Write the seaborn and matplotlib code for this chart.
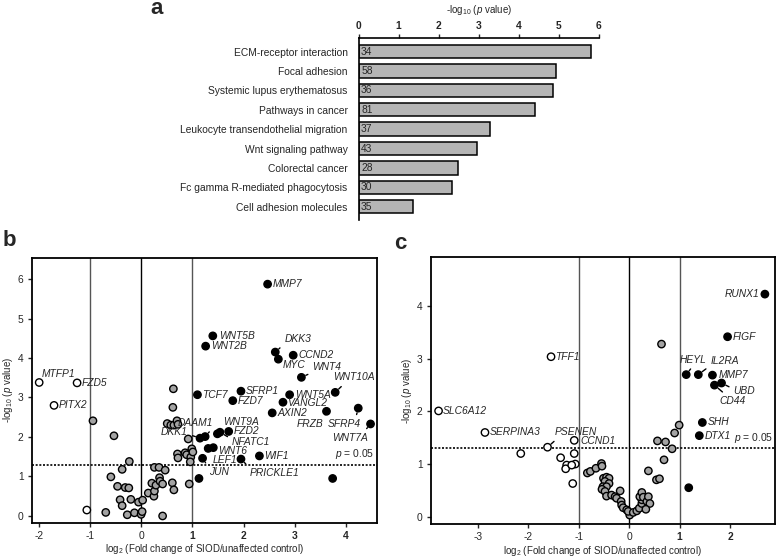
import numpy as np
import pandas as pd
import matplotlib
matplotlib.use("Agg")
import matplotlib.pyplot as plt
import seaborn as sns

# ---------------- data ----------------
pathways = ["ECM-receptor interaction", "Focal adhesion", "Systemic lupus erythematosus",
            "Pathways in cancer", "Leukocyte transendothelial migration", "Wnt signaling pathway",
            "Colorectal cancer", "Fc gamma R-mediated phagocytosis", "Cell adhesion molecules"]
pathway_logp = [5.81, 4.94, 4.86, 4.42, 3.29, 2.95, 2.49, 2.33, 1.35]
pathway_counts = [34, 58, 36, 81, 37, 43, 28, 30, 35]

# panel b (Wnt pathway genes)
b_up_genes = ["MMP7", "WNT5B", "WNT2B", "DKK3", "CCND2", "MYC", "WNT4", "WNT10A", "TCF7", "SFRP1",
              "FZD7", "WNT5A", "VANGL2", "AXIN2", "FRZB", "SFRP4", "WNT7A", "DKK1", "DAAM1", "WNT9A",
              "NFATC1", "FZD2", "LEF1", "WNT6", "JUN", "WIF1", "PRICKLE1", "", ""]
b_up_x = [2.47, 1.40, 1.26, 2.62, 2.97, 2.68, 3.13, 3.79, 1.10, 1.95,
          1.79, 2.90, 2.77, 2.56, 3.62, 4.24, 4.48, 1.15, 1.25, 1.49,
          1.54, 1.71, 1.31, 1.41, 1.20, 2.31, 1.95, 1.13, 3.74]
b_up_y = [5.87, 4.56, 4.30, 4.15, 4.07, 3.97, 3.51, 3.13, 3.07, 3.16,
          2.92, 3.07, 2.88, 2.61, 2.65, 2.73, 2.33, 1.97, 2.01, 2.08,
          2.12, 2.14, 1.71, 1.73, 1.46, 1.52, 1.44, 0.95, 0.95]
b_down_genes = ["MTFP1", "FZD5", "PITX2", ""]
b_down_x = [-1.99, -1.25, -1.70, -1.06]
b_down_y = [3.38, 3.37, 2.80, 0.15]
b_ns_x = [-0.94, -0.53, -0.23, -0.37, -0.59, -0.46, -0.31, -0.24, -0.41, -0.37, -0.20, -0.05, 0.03,
          -0.69, -0.27, -0.13, 0.00, 0.02, 0.42, 0.14, 0.25, 0.26, 0.21, 0.29, 0.36, 0.37, 0.42,
          0.26, 0.35, 0.47, 0.61, 0.64, 0.94, 0.63, 0.62, 0.51, 0.58, 0.64, 0.70, 0.72, 0.92,
          0.71, 0.72, 0.86, 0.89, 0.97, 0.99, 1.01, 0.96]
b_ns_y = [2.41, 2.03, 1.38, 1.18, 0.99, 0.75, 0.72, 0.71, 0.41, 0.26, 0.42, 0.35, 0.40,
          0.09, 0.03, 0.08, 0.04, 0.11, 0.00, 0.58, 0.50, 0.63, 0.83, 0.78, 0.97, 0.88, 0.81,
          1.23, 1.23, 1.16, 0.84, 0.66, 0.81, 3.22, 2.75, 2.34, 2.30, 2.30, 2.41, 2.32, 1.95,
          1.57, 1.47, 1.60, 1.55, 1.49, 1.70, 1.62, 1.37]

# panel c (Notch / other genes)
c_up_genes = ["RUNX1", "FIGF", "HEYL", "IL2RA", "MMP7", "UBD", "CD44", "SHH", "DTX1", ""]
c_up_x = [2.69, 1.95, 1.13, 1.37, 1.65, 1.83, 1.69, 1.45, 1.39, 1.18]
c_up_y = [4.23, 3.42, 2.70, 2.70, 2.69, 2.54, 2.50, 1.79, 1.54, 0.55]
c_down_genes = ["SLC6A12", "TFF1", "SERPINA3", "PSENEN", "CCND1", "", "", "", "", "", "", "", ""]
c_down_x = [-3.78, -1.55, -2.86, -1.62, -1.09, -2.15, -1.09, -1.36, -1.24, -1.26, -1.07, -1.14, -1.12]
c_down_y = [2.01, 3.04, 1.60, 1.32, 1.45, 1.20, 1.20, 1.12, 0.98, 0.91, 1.00, 0.98, 0.63]
c_ns_x = [-0.83, -0.77, -0.66, -0.55, -0.54, -0.51, -0.45, -0.40, -0.48, -0.40, -0.52, -0.45, -0.54,
          -0.48, -0.45, -0.35, -0.28, -0.18, -0.25, -0.16, -0.15, -0.12, -0.05, 0.01, -0.02, 0.08,
          0.15, 0.20, 0.25, 0.25, 0.21, 0.25, 0.28, 0.35, 0.38, 0.41, 0.33, 0.38, 0.54, 0.60,
          0.69, 0.56, 0.72, 0.85, 0.90, 0.99, 0.64]
c_ns_y = [0.83, 0.86, 0.92, 1.01, 0.96, 0.73, 0.75, 0.73, 0.67, 0.63, 0.57, 0.57, 0.52,
          0.48, 0.39, 0.41, 0.38, 0.49, 0.35, 0.29, 0.22, 0.17, 0.13, 0.03, 0.10, 0.08,
          0.11, 0.16, 0.25, 0.32, 0.38, 0.46, 0.37, 0.29, 0.38, 0.25, 0.14, 0.87, 0.70, 0.72,
          1.08, 1.44, 1.42, 1.29, 1.59, 1.74, 3.28]

# ---------------- style ----------------
sns.set_theme(style="white")
plt.rcParams["font.family"] = ["Liberation Sans", "DejaVu Sans"]
plt.rcParams["mathtext.fontset"] = "custom"
plt.rcParams["mathtext.rm"] = "Liberation Sans"
plt.rcParams["mathtext.it"] = "Liberation Sans:italic"
plt.rcParams["mathtext.bf"] = "Liberation Sans:bold"

FS = 7.4
FS_LAB = 7.0
GREY = "#a3a3a3"
palette = {"up": "black", "ns": GREY, "down": "white"}

fig = plt.figure(figsize=(7.77, 5.58), dpi=100)

# ---------------- panel a ----------------
ax_a = fig.add_axes([0.4616, 0.6057, 0.3089, 0.3256])
df_a = pd.DataFrame({"term": pathways, "logp": pathway_logp, "n": pathway_counts})
sns.barplot(data=df_a, x="logp", y="term", orient="h", color="#b5b5b5", saturation=1,
            edgecolor="black", linewidth=1.1, width=0.69, ax=ax_a)
ax_a.set_xlim(0, 6)
ax_a.set_ylim(8.69, -0.69)
ax_a.xaxis.tick_top()
ax_a.xaxis.set_label_position("top")
ax_a.set_xticks(range(7))
ax_a.set_xticklabels([str(i) for i in range(7)], fontsize=FS, fontweight="bold")
ax_a.tick_params(axis="x", direction="out", length=3, width=1, pad=2, top=True, bottom=False)
ax_a.tick_params(axis="y", length=0, pad=8, labelsize=FS)
for s in ["right", "bottom"]:
    ax_a.spines[s].set_visible(False)
for s in ["top", "left"]:
    ax_a.spines[s].set_linewidth(1.2)
    ax_a.spines[s].set_color("black")
ax_a.set_ylabel("")
ax_a.set_xlabel(r"-log$_{10}$ ($\mathit{p}$ value)", fontsize=FS_LAB, labelpad=6)
for i, n in enumerate(df_a["n"]):
    ax_a.text(0.06, i, str(n), va="center", ha="left", fontsize=FS)


def volcano(ax, up, down, ns, xlim, ylim, xticks, yticks, bold_from):
    frames = []
    for grp, (xs, ys) in (("ns", ns), ("down", down), ("up", up)):
        frames.append(pd.DataFrame({"x": xs, "y": ys, "group": grp}))
    df = pd.concat(frames, ignore_index=True)
    for v, c in ((-1, "#555555"), (0, "black"), (1, "#555555")):
        ax.axvline(v, color=c, lw=1.0, zorder=1)
    ax.axhline(-np.log10(0.05), color="black", lw=1.2, ls=(0, (1.2, 1.0)), zorder=1)
    sns.scatterplot(data=df, x="x", y="y", hue="group", palette=palette, edgecolor="black",
                    linewidth=1.0, s=28, legend=False, ax=ax, zorder=3)
    ax.set_xlim(*xlim)
    ax.set_ylim(*ylim)
    ax.set_xticks(xticks)
    ax.set_xticklabels([str(t) for t in xticks], fontsize=FS)
    for lab, t in zip(ax.get_xticklabels(), xticks):
        if t >= bold_from:
            lab.set_fontweight("bold")
    ax.set_yticks(yticks)
    ax.set_yticklabels([str(t) for t in yticks], fontsize=FS)
    ax.tick_params(direction="out", length=3, width=1, pad=3, bottom=True, left=True)
    for s in ax.spines.values():
        s.set_linewidth(1.3)
        s.set_color("black")
    ax.set_xlabel(r"log$_2$ (Fold change of SIOD/unaffected control)", fontsize=FS_LAB, labelpad=1)
    ax.set_ylabel(r"-log$_{10}$ ($\mathit{p}$ value)", fontsize=FS_LAB, labelpad=2)


def label(ax, x, y, name, dx, dy, ha="left", rel=None):
    kw = dict(xytext=(dx, dy), textcoords="offset pixels", ha=ha, va="center",
              fontsize=FS, fontstyle="italic", zorder=4)
    if rel is not None:
        kw["arrowprops"] = dict(arrowstyle="-", lw=1.0, color="black", relpos=rel,
                                shrinkA=1, shrinkB=3.5)
    ax.annotate(name, (x, y), **kw)


# ---------------- panel b ----------------
ax_b = fig.add_axes([0.0412, 0.0633, 0.4436, 0.4749])
volcano(ax_b, (b_up_x, b_up_y), (b_down_x, b_down_y), (b_ns_x, b_ns_y),
        (-2.13, 4.6), (-0.17, 6.54), [-2, -1, 0, 1, 2, 3, 4], [0, 1, 2, 3, 4, 5, 6], 1)
b_offsets = {
    "MMP7": (5, 0), "WNT5B": (6, 0), "WNT2B": (5, 0), "DKK3": (9, 13, "left", (0, 0)),
    "CCND2": (5, 0), "MYC": (4, -6), "WNT4": (11, 10, "left", (0, 0)),
    "WNT10A": (-2, 15, "left", (0.3, 0)), "TCF7": (5, 0), "SFRP1": (5, 0), "FZD7": (5, 0),
    "WNT5A": (5, 0), "VANGL2": (4, -1), "AXIN2": (5, 0),
    "FRZB": (-30, -13, "left", (1, 1)), "SFRP4": (-31, -16, "left", (0.85, 1)),
    "WNT7A": (-38, -14, "left", (0.85, 1)), "DAAM1": (8, 14, "right", (1, 0)),
    "DKK1": (-12, 6, "right", (1, 0.3)), "WNT9A": (6, 12, "left", (0.1, 0)),
    "NFATC1": (12, -10, "left", (0, 0.8)), "FZD2": (5, 0), "LEF1": (4, -12, "left", (0.05, 1)),
    "WNT6": (5, -3), "JUN": (6, -14, "left", (0, 1)), "WIF1": (5, 0),
    "PRICKLE1": (9, -14, "left", (0, 1)),
    "MTFP1": (3, 8), "FZD5": (5, 0), "PITX2": (5, 0),
}
for genes, xs, ys in ((b_up_genes, b_up_x, b_up_y), (b_down_genes, b_down_x, b_down_y)):
    for g, x, y in zip(genes, xs, ys):
        if g:
            o = b_offsets[g]
            label(ax_b, x, y, g, o[0], o[1], *(o[2:] if len(o) > 2 else ()))
ax_b.text(4.55, 1.40, r"$\mathit{p}$ = 0.05", ha="right", va="bottom", fontsize=FS)

# ---------------- panel c ----------------
ax_c = fig.add_axes([0.5547, 0.0609, 0.4427, 0.478])
volcano(ax_c, (c_up_x, c_up_y), (c_down_x, c_down_y), (c_ns_x, c_ns_y),
        (-3.93, 2.89), (-0.14, 4.93), [-3, -2, -1, 0, 1, 2], [0, 1, 2, 3, 4], 1)
c_offsets = {
    "RUNX1": (-5, 0, "right"), "FIGF": (5, 0), "HEYL": (-7, 15, "left", (0.55, 0)),
    "IL2RA": (12, 14, "left", (0, 0)), "MMP7": (6, 0), "UBD": (12, -8, "left", (0, 0.7)),
    "CD44": (5, -16, "left", (0.3, 1)), "SHH": (5, 0), "DTX1": (5, 0),
    "SLC6A12": (4, 0), "TFF1": (4, 0), "SERPINA3": (5, 0),
    "PSENEN": (7, 15, "left", (0.1, 0)), "CCND1": (6, -1),
}
for genes, xs, ys in ((c_up_genes, c_up_x, c_up_y), (c_down_genes, c_down_x, c_down_y)):
    for g, x, y in zip(genes, xs, ys):
        if g:
            o = c_offsets[g]
            label(ax_c, x, y, g, o[0], o[1], *(o[2:] if len(o) > 2 else ()))
ax_c.text(2.85, 1.36, r"$\mathit{p}$ = 0.05", ha="right", va="bottom", fontsize=FS)

# panel letters
fig.text(150 / 777, 1 - 9 / 558, "a", fontsize=16, fontweight="bold", ha="left", va="center")
fig.text(3 / 777, 1 - 241 / 558, "b", fontsize=16, fontweight="bold", ha="left", va="center")
fig.text(394 / 777, 1 - 243 / 558, "c", fontsize=16, fontweight="bold", ha="left", va="center")

fig.savefig("out.png", dpi=100)
